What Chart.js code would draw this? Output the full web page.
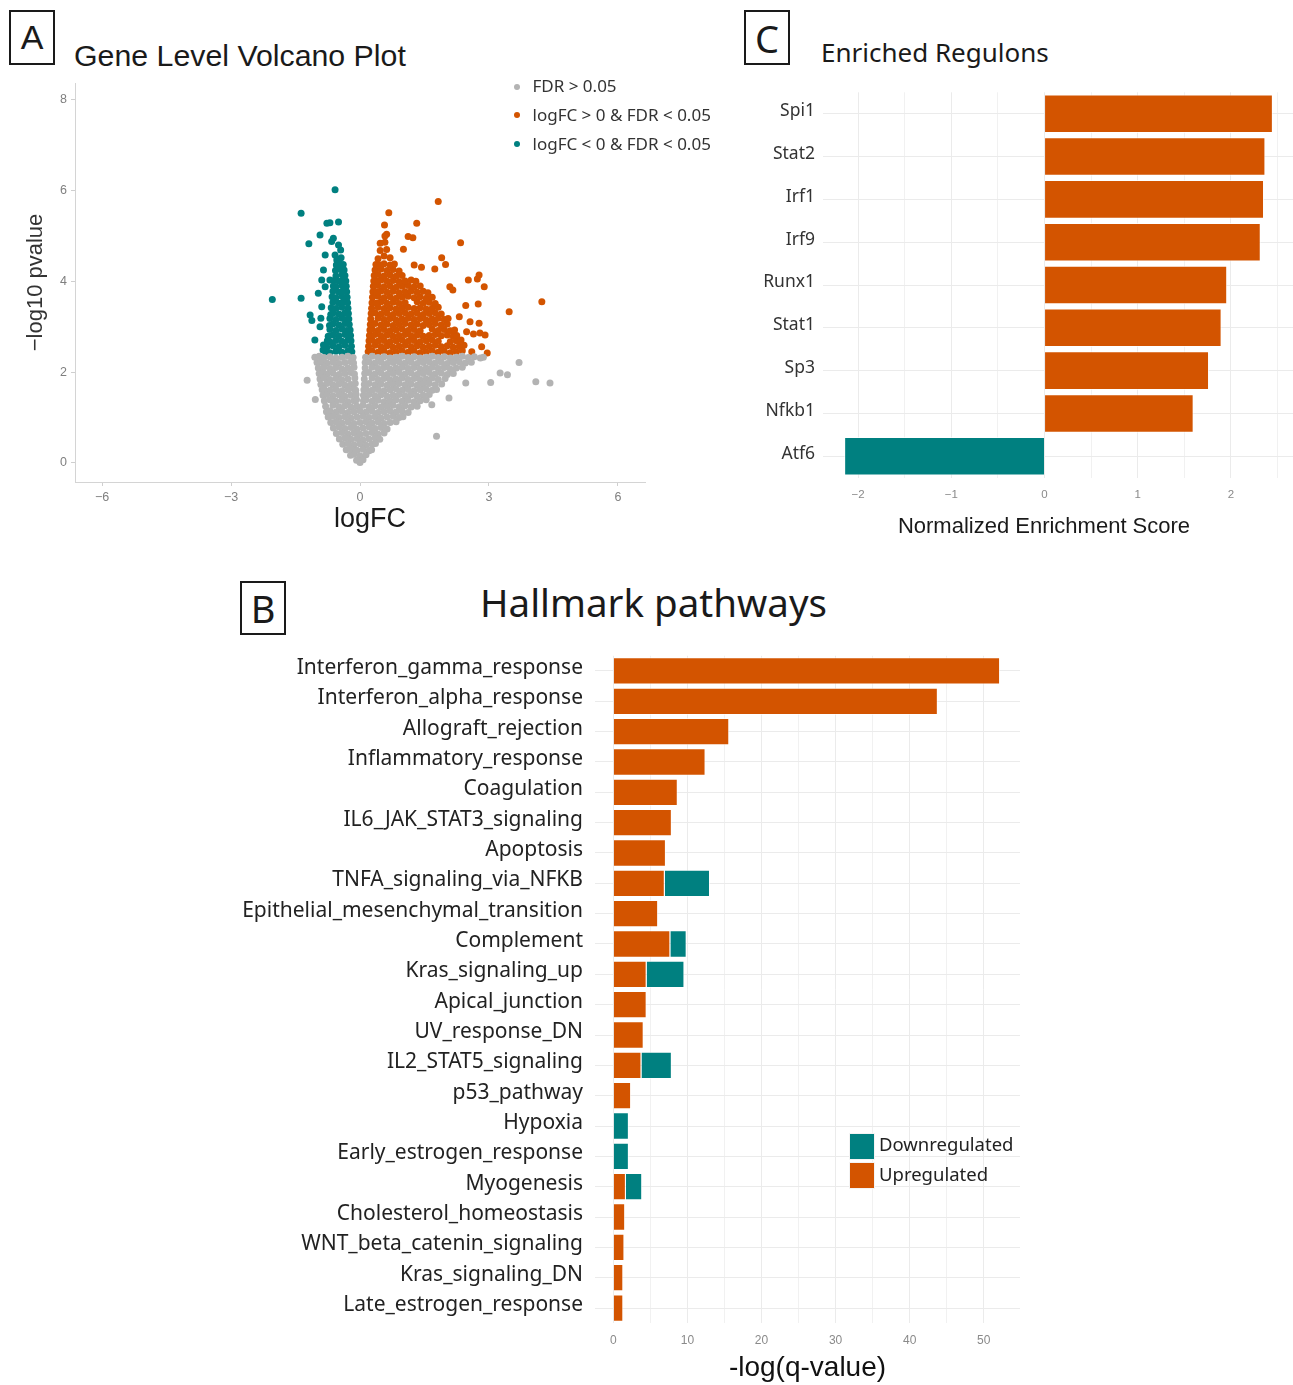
<!DOCTYPE html>
<html>
<head>
<meta charset="utf-8">
<title>Volcano plot, enriched regulons and hallmark pathways</title>
<script src="https://cdn.jsdelivr.net/npm/chart.js@4/dist/chart.umd.min.js"></script>
<style>
  html, body { margin: 0; padding: 0; background: #fff; }
  body { position: relative; width: 1293px; height: 1385px; overflow: hidden; }
  canvas { position: absolute; }
  .tag { position: absolute; box-sizing: border-box; border: 2px solid #1a1a1a; display: flex;
         align-items: center; justify-content: center; color: #1a1a1a; line-height: 1; }
  .txt { position: absolute; white-space: nowrap; }
  .dot { position: absolute; width: 6px; height: 6px; border-radius: 50%; }
  .sw { position: absolute; width: 26px; height: 27px; box-sizing: border-box; border: 1px solid #f4f4f4; }
</style>
</head>
<body>

<!-- Panel A -->
<div class="tag" style="left:9px;top:10px;width:46px;height:55px;font:34px 'Liberation Sans',Arial,sans-serif;">A</div>
<div class="txt" style="left:74px;top:41.4px;font:30.3px/30px 'Liberation Sans',Arial,sans-serif;color:#1a1a1a;">Gene Level Volcano Plot</div>
<canvas id="volcano" width="660" height="475" style="left:0;top:70px;"></canvas>
<div class="txt" style="left:270px;width:200px;text-align:center;top:504.8px;font:27px/27px 'Liberation Sans',Arial,sans-serif;color:#1a1a1a;">logFC</div>
<div class="dot" style="left:514px;top:83.5px;background:#b3b3b3;"></div>
<div class="dot" style="left:514px;top:112px;background:#d35400;"></div>
<div class="dot" style="left:514px;top:141px;background:#008080;"></div>
<div class="txt" style="left:532.5px;top:76px;font:17px/20px 'Noto Sans',sans-serif;color:#333;">FDR &gt; 0.05</div>
<div class="txt" style="left:532.5px;top:104.5px;font:17px/20px 'Noto Sans',sans-serif;color:#333;">logFC &gt; 0 &amp; FDR &lt; 0.05</div>
<div class="txt" style="left:532.5px;top:133.5px;font:17px/20px 'Noto Sans',sans-serif;color:#333;">logFC &lt; 0 &amp; FDR &lt; 0.05</div>

<!-- Panel C -->
<div class="tag" style="left:744px;top:10px;width:46px;height:55px;font:38px 'Noto Sans',sans-serif;">C</div>
<div class="txt" style="left:821px;top:38.6px;font:26px/26px 'Noto Sans',sans-serif;color:#1a1a1a;">Enriched Regulons</div>
<canvas id="regulons" width="548" height="465" style="left:745px;top:80px;"></canvas>
<div class="txt" style="left:894px;width:300px;text-align:center;top:514.7px;font:22px/22px 'Liberation Sans',Arial,sans-serif;color:#1a1a1a;">Normalized Enrichment Score</div>

<!-- Panel B -->
<div class="tag" style="left:240px;top:581px;width:46px;height:54px;font:38px 'Noto Sans',sans-serif;">B</div>
<div class="txt" style="left:480px;top:583.3px;font:38.5px/38px 'Noto Sans',sans-serif;color:#1a1a1a;">Hallmark pathways</div>
<canvas id="hallmark" width="800" height="745" style="left:230px;top:640px;"></canvas>
<div class="sw" style="left:848.5px;top:1133px;background:#008080;"></div>
<div class="sw" style="left:848.5px;top:1161.5px;background:#d35400;"></div>
<div class="txt" style="left:879px;top:1131px;font:18.5px/26px 'Noto Sans',sans-serif;color:#222;">Downregulated</div>
<div class="txt" style="left:879px;top:1160.5px;font:18.5px/26px 'Noto Sans',sans-serif;color:#222;">Upregulated</div>

<script>
// ---------- Panel A: gene level volcano plot (logFC, -log10 pvalue) ----------
const volcanoXTicks = [-6, -3, 0, 3, 6];
const volcanoYTicks = [0, 2, 4, 6, 8];

// FDR > 0.05
const pointsNotSig = [
  [-1.05,2.33],[-0.95,2.35],[-0.84,2.32],[-0.70,2.34],[-0.56,2.31],[-0.42,2.33],[-0.28,2.35],[-0.16,2.32],
  [0.13,2.33],[0.28,2.35],[0.42,2.32],[0.56,2.34],[0.70,2.31],[0.84,2.33],[0.98,2.35],[1.12,2.32],[1.26,2.34],
  [1.40,2.31],[1.54,2.33],[1.68,2.35],[1.82,2.32],[1.96,2.34],[2.10,2.31],[2.24,2.33],[2.38,2.35],[2.52,2.32],
  [2.66,2.34],[2.80,2.31],[2.87,2.33],[3.70,2.21],
  [-1.00,2.21],[-0.91,2.23],[-0.77,2.20],[-0.63,2.22],[-0.49,2.19],[-0.35,2.21],[-0.21,2.23],[-0.15,2.20],
  [0.12,2.21],[0.21,2.23],[0.35,2.20],[0.49,2.22],[0.63,2.19],[0.77,2.21],[0.91,2.23],[1.05,2.20],[1.19,2.22],
  [1.33,2.19],[1.47,2.21],[1.61,2.23],[1.75,2.20],[1.89,2.22],[2.03,2.19],[2.17,2.21],[2.31,2.23],[2.45,2.20],[2.59,2.22],
  [-0.97,2.09],[-0.84,2.11],[-0.70,2.08],[-0.56,2.10],[-0.42,2.07],[-0.28,2.09],[-0.14,2.11],
  [0.12,2.09],[0.28,2.11],[0.42,2.08],[0.56,2.10],[0.70,2.07],[0.84,2.09],[0.98,2.11],[1.12,2.08],[1.26,2.10],
  [1.40,2.07],[1.54,2.09],[1.68,2.11],[1.82,2.08],[1.96,2.10],[2.10,2.07],[2.24,2.09],[2.38,2.11],[3.26,1.98],[3.43,1.94],
  [-0.95,1.97],[-0.86,1.99],[-0.77,1.96],[-0.63,1.98],[-0.49,1.95],[-0.35,1.97],[-0.21,1.99],[-0.13,1.96],
  [0.11,1.97],[0.21,1.99],[0.35,1.96],[0.49,1.98],[0.63,1.95],[0.77,1.97],[0.91,1.99],[1.05,1.96],[1.19,1.98],
  [1.33,1.95],[1.47,1.97],[1.61,1.99],[1.75,1.96],[1.89,1.98],[2.03,1.95],[2.17,1.97],
  [-1.23,1.82],[-0.93,1.85],[-0.84,1.87],[-0.70,1.84],[-0.56,1.86],[-0.42,1.83],[-0.28,1.85],[-0.12,1.87],
  [0.10,1.85],[0.28,1.87],[0.42,1.84],[0.56,1.86],[0.70,1.83],[0.84,1.85],[0.98,1.87],[1.12,1.84],[1.26,1.86],
  [1.40,1.83],[1.54,1.85],[1.68,1.87],[1.82,1.84],[1.98,1.86],
  [-0.91,1.73],[-0.77,1.75],[-0.63,1.72],[-0.49,1.74],[-0.35,1.71],[-0.21,1.73],[-0.11,1.75],
  [0.10,1.73],[0.21,1.75],[0.35,1.72],[0.49,1.74],[0.63,1.71],[0.77,1.73],[0.91,1.75],[1.05,1.72],[1.19,1.74],
  [1.33,1.71],[1.47,1.73],[1.61,1.75],[1.75,1.72],[1.90,1.74],[2.46,1.76],[3.04,1.77],[4.09,1.79],[4.42,1.76],
  [-0.88,1.61],[-0.84,1.63],[-0.70,1.60],[-0.56,1.62],[-0.42,1.59],[-0.28,1.61],[-0.14,1.63],[-0.10,1.60],
  [0.09,1.61],[0.14,1.63],[0.28,1.60],[0.42,1.62],[0.56,1.59],[0.70,1.61],[0.84,1.63],[0.98,1.60],[1.12,1.62],
  [1.26,1.59],[1.40,1.61],[1.54,1.63],[1.68,1.60],[1.78,1.62],
  [-1.04,1.40],[-0.86,1.49],[-0.77,1.51],[-0.63,1.48],[-0.49,1.50],[-0.35,1.47],[-0.21,1.49],[-0.09,1.51],
  [0.08,1.49],[0.21,1.51],[0.35,1.48],[0.49,1.50],[0.63,1.47],[0.77,1.49],[0.91,1.51],[1.05,1.48],[1.19,1.50],
  [1.33,1.47],[1.47,1.49],[1.61,1.51],[2.07,1.43],
  [-0.83,1.37],[-0.70,1.39],[-0.56,1.36],[-0.42,1.38],[-0.28,1.35],[-0.14,1.37],[-0.08,1.39],
  [0.08,1.37],[0.14,1.39],[0.28,1.36],[0.42,1.38],[0.56,1.35],[0.70,1.37],[0.84,1.39],[0.98,1.36],[1.12,1.38],
  [1.26,1.35],[1.40,1.37],[1.54,1.39],
  [-0.80,1.25],[-0.63,1.27],[-0.49,1.24],[-0.35,1.26],[-0.21,1.23],[-0.07,1.25],
  [0.07,1.27],[0.21,1.24],[0.35,1.26],[0.49,1.23],[0.63,1.25],[0.77,1.27],[0.91,1.24],[1.05,1.26],[1.19,1.23],
  [1.33,1.25],[1.67,1.28],
  [-0.78,1.13],[-0.70,1.15],[-0.56,1.12],[-0.42,1.14],[-0.28,1.11],[-0.14,1.13],[0.00,1.15],[0.14,1.12],
  [0.28,1.14],[0.42,1.11],[0.56,1.13],[0.70,1.15],[0.84,1.12],[0.98,1.14],[1.12,1.11],
  [-0.74,1.01],[-0.63,1.03],[-0.49,1.00],[-0.35,1.02],[-0.21,0.99],[-0.07,1.01],[0.07,1.03],[0.21,1.00],
  [0.35,1.02],[0.49,0.99],[0.63,1.01],[0.77,1.03],[0.91,1.00],[1.00,1.02],
  [-0.68,0.89],[-0.56,0.91],[-0.42,0.88],[-0.28,0.90],[-0.14,0.87],[0.00,0.89],[0.14,0.91],[0.28,0.88],
  [0.42,0.90],[0.56,0.87],[0.70,0.89],[0.84,0.91],
  [-0.62,0.77],[-0.49,0.79],[-0.35,0.76],[-0.21,0.78],[-0.07,0.75],[0.07,0.77],[0.21,0.79],[0.35,0.76],
  [0.49,0.78],[0.63,0.75],
  [-0.55,0.65],[-0.42,0.67],[-0.28,0.64],[-0.14,0.66],[0.00,0.63],[0.14,0.65],[0.28,0.67],[0.42,0.64],
  [0.56,0.66],[1.78,0.59],
  [-0.48,0.53],[-0.35,0.55],[-0.21,0.52],[-0.07,0.54],[0.07,0.51],[0.21,0.53],[0.35,0.55],[0.46,0.52],
  [-0.40,0.41],[-0.28,0.43],[-0.14,0.40],[0.00,0.42],[0.14,0.39],[0.28,0.41],[0.36,0.43],
  [-0.32,0.29],[-0.21,0.31],[-0.07,0.28],[0.07,0.30],[0.21,0.27],[0.27,0.29],
  [-0.22,0.17],[-0.14,0.19],[0.00,0.16],[0.14,0.18],
  [-0.08,0.06],[0.07,0.07],[0.00,0.01]
];

// logFC > 0 & FDR < 0.05
const pointsUp = [
  [0.19,2.45],[0.28,2.47],[0.42,2.44],[0.56,2.46],[0.70,2.43],[0.84,2.45],[0.98,2.47],[1.12,2.44],[1.26,2.46],
  [1.40,2.43],[1.54,2.45],[1.68,2.47],[1.82,2.44],[1.96,2.46],[2.10,2.43],[2.24,2.45],[2.38,2.47],[2.60,2.45],[2.96,2.42],
  [0.20,2.57],[0.35,2.59],[0.49,2.56],[0.63,2.58],[0.77,2.55],[0.91,2.57],[1.05,2.59],[1.19,2.56],[1.33,2.58],
  [1.47,2.55],[1.61,2.57],[1.75,2.59],[1.89,2.56],[2.03,2.58],[2.17,2.55],[2.31,2.57],[2.42,2.59],[2.83,2.56],
  [0.21,2.69],[0.28,2.71],[0.42,2.68],[0.56,2.70],[0.70,2.67],[0.84,2.69],[0.98,2.71],[1.12,2.68],[1.26,2.70],
  [1.40,2.67],[1.54,2.69],[1.68,2.71],[1.82,2.68],[2.10,2.67],[2.24,2.69],[2.35,2.71],
  [0.22,2.81],[0.35,2.83],[0.49,2.80],[0.63,2.82],[0.77,2.79],[0.91,2.81],[1.05,2.83],[1.19,2.80],[1.33,2.82],
  [1.47,2.79],[1.61,2.81],[1.75,2.83],[1.89,2.80],[2.03,2.82],[2.17,2.79],[2.25,2.81],
  [2.48,2.89],[2.64,2.84],[2.79,2.86],[2.91,2.82],
  [0.23,2.93],[0.28,2.95],[0.42,2.92],[0.56,2.94],[0.70,2.91],[0.84,2.93],[0.98,2.95],[1.12,2.92],[1.26,2.94],
  [1.40,2.91],[1.68,2.95],[1.82,2.92],[1.96,2.94],[2.10,2.91],[2.20,2.93],
  [0.24,3.05],[0.35,3.07],[0.49,3.04],[0.63,3.06],[0.77,3.03],[0.91,3.05],[1.05,3.07],[1.19,3.04],[1.33,3.06],
  [1.47,3.03],[1.61,3.05],[1.75,3.07],[1.89,3.04],[2.03,3.06],[2.56,3.11],[2.77,3.08],
  [0.25,3.17],[0.42,3.19],[0.56,3.16],[0.70,3.18],[0.84,3.15],[0.98,3.17],[1.12,3.19],[1.26,3.16],[1.40,3.18],
  [1.54,3.15],[1.68,3.17],[1.82,3.19],[1.96,3.16],[2.05,3.18],[2.31,3.22],
  [0.26,3.29],[0.35,3.31],[0.49,3.28],[0.63,3.30],[0.77,3.27],[0.91,3.29],[1.05,3.31],[1.19,3.28],[1.33,3.30],
  [1.47,3.27],[1.61,3.29],[1.75,3.31],[1.89,3.28],[3.47,3.33],
  [0.27,3.41],[0.42,3.43],[0.56,3.40],[0.70,3.42],[0.84,3.39],[0.98,3.41],[1.12,3.43],[1.26,3.40],[1.40,3.42],
  [1.54,3.39],[1.68,3.41],[1.82,3.43],[2.46,3.47],
  [0.28,3.53],[0.49,3.55],[0.63,3.52],[0.77,3.54],[0.91,3.51],[1.05,3.53],[1.33,3.55],[1.47,3.52],[1.61,3.54],
  [1.75,3.51],[0.38,3.52],[2.75,3.50],[4.23,3.55],
  [0.29,3.65],[0.42,3.67],[0.56,3.64],[0.70,3.66],[0.84,3.63],[0.98,3.65],[1.12,3.67],[1.26,3.64],[1.40,3.66],
  [1.54,3.63],[1.68,3.65],
  [0.30,3.77],[0.49,3.79],[0.63,3.76],[0.77,3.78],[0.91,3.75],[1.05,3.77],[1.19,3.79],[1.33,3.76],[1.47,3.78],
  [1.58,3.75],[0.39,3.76],
  [0.31,3.89],[0.42,3.91],[0.56,3.88],[0.70,3.90],[0.84,3.87],[0.98,3.89],[1.12,3.91],[1.26,3.88],[1.40,3.90],
  [2.09,3.88],[2.16,3.81],[2.89,3.88],
  [0.32,4.01],[0.49,4.03],[0.63,4.00],[0.77,4.02],[0.91,3.99],[1.05,4.01],[1.19,4.03],[1.30,4.00],[0.40,4.00],
  [2.52,4.03],[2.73,4.05],[2.77,4.14],
  [0.33,4.13],[0.42,4.15],[0.56,4.12],[0.70,4.14],[0.84,4.11],[0.98,4.13],[1.74,4.27],
  [0.35,4.25],[0.49,4.27],[0.63,4.24],[0.77,4.26],[0.91,4.23],[1.26,4.36],[1.43,4.31],[1.99,4.37],
  [0.37,4.37],[0.56,4.39],[0.70,4.36],[0.80,4.38],[0.46,4.36],[1.90,4.52],
  [0.42,4.50],[0.56,4.56],[0.70,4.52],[0.47,4.68],[0.62,4.70],[1.01,4.71],[0.47,4.84],[0.58,4.86],[1.23,4.96],
  [0.62,5.04],[0.58,5.00],[1.12,4.99],[0.57,5.24],[1.32,5.28],[0.67,5.51],[1.82,5.76],[2.34,4.85]
];

// logFC < 0 & FDR < 0.05
const pointsDown = [
  [-0.19,2.45],[-0.28,2.47],[-0.42,2.44],[-0.56,2.46],[-0.70,2.43],[-0.80,2.45],[-0.86,2.49],
  [-0.20,2.57],[-0.35,2.59],[-0.49,2.56],[-0.63,2.58],[-0.77,2.55],[-0.85,2.60],
  [-0.21,2.69],[-0.28,2.71],[-0.42,2.68],[-0.56,2.70],[-0.70,2.67],[-0.76,2.69],[-1.05,2.71],
  [-0.22,2.81],[-0.35,2.83],[-0.49,2.80],[-0.63,2.82],[-0.74,2.79],
  [-0.23,2.93],[-0.42,2.95],[-0.56,2.92],[-0.70,2.94],[-0.31,2.92],[-0.93,3.00],
  [-0.25,3.05],[-0.35,3.07],[-0.49,3.04],[-0.63,3.06],[-0.71,3.03],
  [-0.26,3.17],[-0.42,3.19],[-0.56,3.16],[-0.70,3.18],[-0.33,3.16],[-0.91,3.19],[-1.12,3.14],
  [-0.27,3.29],[-0.35,3.31],[-0.49,3.28],[-0.63,3.30],[-0.68,3.27],[-1.16,3.26],
  [-0.28,3.41],[-0.42,3.43],[-0.56,3.40],[-0.67,3.42],[-0.89,3.44],
  [-0.29,3.53],[-0.39,3.55],[-0.49,3.52],[-0.63,3.54],
  [-0.30,3.65],[-0.42,3.67],[-0.56,3.64],[-0.65,3.66],[-1.37,3.63],[-2.04,3.60],
  [-0.31,3.77],[-0.40,3.79],[-0.49,3.76],[-0.63,3.78],[-0.97,3.74],
  [-0.32,3.89],[-0.42,3.91],[-0.56,3.88],[-0.62,3.90],[-0.81,3.88],
  [-0.33,4.01],[-0.41,4.03],[-0.49,4.00],[-0.60,4.02],[-0.70,4.03],[-0.89,4.03],
  [-0.35,4.13],[-0.42,4.15],[-0.56,4.12],
  [-0.37,4.25],[-0.49,4.27],[-0.57,4.24],[-0.85,4.25],
  [-0.39,4.37],[-0.47,4.39],[-0.55,4.36],[-0.54,4.47],
  [-0.44,4.52],[-0.58,4.58],[-0.81,4.58],[-0.45,4.69],[-0.50,4.80],[-0.62,4.95],[-0.66,4.88],[-0.93,5.02],
  [-0.77,5.28],[-0.70,5.29],[-0.50,5.31],[-1.19,4.83],[-1.37,5.50],[-0.58,6.02]
];

// ---------- Panel C: enriched regulons (normalized enrichment score) ----------
const regulonNames = ['Spi1', 'Stat2', 'Irf1', 'Irf9', 'Runx1', 'Stat1', 'Sp3', 'Nfkb1', 'Atf6'];
const regulonNES   = [2.45, 2.37, 2.355, 2.32, 1.96, 1.90, 1.765, 1.60, -2.15];
const nesGridTicks = [-2, -1.5, -1, -0.5, 0, 0.5, 1, 1.5, 2, 2.5];

// ---------- Panel B: hallmark pathways (-log q-value) ----------
const pathways = [
  'Interferon_gamma_response', 'Interferon_alpha_response', 'Allograft_rejection', 'Inflammatory_response',
  'Coagulation', 'IL6_JAK_STAT3_signaling', 'Apoptosis', 'TNFA_signaling_via_NFKB',
  'Epithelial_mesenchymal_transition', 'Complement', 'Kras_signaling_up', 'Apical_junction',
  'UV_response_DN', 'IL2_STAT5_signaling', 'p53_pathway', 'Hypoxia', 'Early_estrogen_response',
  'Myogenesis', 'Cholesterol_homeostasis', 'WNT_beta_catenin_signaling', 'Kras_signaling_DN',
  'Late_estrogen_response'
];
const upScores   = [52.2, 43.8, 15.65, 12.45, 8.7, 7.9, 7.1, 6.95, 6.05, 7.7, 4.5, 4.5, 4.1, 3.8, 2.4, 0, 0, 1.7, 1.6, 1.5, 1.35, 1.35];
const downScores = [0, 0, 0, 0, 0, 0, 0, 6.1, 0, 2.2, 5.1, 0, 0, 4.1, 0, 2.1, 2.1, 2.2, 0, 0, 0, 0];
const qGridTicks = [0, 5, 10, 15, 20, 25, 30, 35, 40, 45, 50];

// ---------- shared helpers ----------
const GRAY = '#b3b3b3', ORANGE = '#d35400', TEAL = '#008080', GRID = '#ebebeb';
const withMinus = v => (v < 0 ? '\u2212' + Math.abs(v) : String(v));
const toXY = pts => pts.map(([x, y]) => ({ x, y }));
const fixedTicks = list => scale => { scale.ticks = list.map(v => ({ value: v })); };
// pin an axis box to an exact size so the plotting area lands where intended
const fixedSize = px => scale => {
  if (scale.isHorizontal()) scale.height = px; else scale.width = px;
  scale.paddingLeft = scale.paddingRight = scale.paddingTop = scale.paddingBottom = 0;
};
const base = {
  responsive: false, animation: false, devicePixelRatio: 1, events: [],
  plugins: { legend: { display: false }, tooltip: { enabled: false } }
};

// Panel A chart
new Chart(document.getElementById('volcano'), {
  type: 'scatter',
  data: {
    datasets: [
      { label: 'FDR > 0.05', data: toXY(pointsNotSig), backgroundColor: GRAY },
      { label: 'logFC > 0 & FDR < 0.05', data: toXY(pointsUp), backgroundColor: ORANGE },
      { label: 'logFC < 0 & FDR < 0.05', data: toXY(pointsDown), backgroundColor: TEAL }
    ].map(d => Object.assign(d, { pointRadius: 3.5, pointHoverRadius: 3.5, pointBorderWidth: 0, borderWidth: 0 }))
  },
  options: Object.assign({}, base, {
    layout: { padding: { top: 13, right: 15, left: 0, bottom: 0 } },
    scales: {
      x: {
        type: 'linear', min: -6.63, max: 6.63,
        afterBuildTicks: fixedTicks(volcanoXTicks), afterFit: fixedSize(63),
        grid: { display: true, drawOnChartArea: false, drawTicks: true, tickLength: 4, color: '#cfcfcf' },
        border: { display: true, color: '#d4d4d4' },
        ticks: { padding: 4, color: '#7f7f7f', autoSkip: false, maxRotation: 0,
                 font: { family: 'Liberation Sans', size: 12.5 }, callback: withMinus }
      },
      y: {
        type: 'linear', min: -0.42, max: 8.37,
        afterBuildTicks: fixedTicks(volcanoYTicks), afterFit: fixedSize(75),
        grid: { display: true, drawOnChartArea: false, drawTicks: true, tickLength: 4, color: '#cfcfcf' },
        border: { display: true, color: '#d4d4d4' },
        ticks: { padding: 4, color: '#7f7f7f', autoSkip: false,
                 font: { family: 'Liberation Sans', size: 12.5 }, callback: withMinus },
        title: { display: true, text: '\u2212log10 pvalue', color: '#333',
                 font: { family: 'Liberation Sans', size: 22 }, padding: { top: 23, bottom: 0 } }
      }
    }
  })
});

// Panel C chart
new Chart(document.getElementById('regulons'), {
  type: 'bar',
  data: {
    labels: regulonNames,
    datasets: [{
      data: regulonNES,
      backgroundColor: regulonNES.map(v => (v < 0 ? TEAL : ORANGE)),
      borderColor: 'rgba(255,255,255,0.7)', borderWidth: 1,
      barPercentage: 0.9, categoryPercentage: 1
    }]
  },
  options: Object.assign({}, base, {
    indexAxis: 'y',
    layout: { padding: { top: 12.3, right: 0, left: 0, bottom: 0 } },
    scales: {
      x: {
        type: 'linear', min: -2.377, max: 2.666,
        afterBuildTicks: fixedTicks(nesGridTicks), afterFit: fixedSize(67.3),
        grid: { color: GRID, drawTicks: false,
                lineWidth: c => (c.tick && Number.isInteger(c.tick.value) ? 1 : 0.7) },
        border: { display: false },
        ticks: { padding: 10, color: '#8a8a8a', autoSkip: false, maxRotation: 0,
                 font: { family: 'Liberation Sans', size: 11.5 },
                 callback: v => (Number.isInteger(v) ? withMinus(v) : '') }
      },
      y: {
        type: 'category', afterFit: fixedSize(78),
        grid: { color: GRID, drawTicks: false, offset: false },
        border: { display: false },
        ticks: { padding: 8, labelOffset: -2.5, color: '#333', autoSkip: false,
                 font: { family: 'Noto Sans', size: 17.5 } }
      }
    }
  })
});

// Panel B chart
new Chart(document.getElementById('hallmark'), {
  type: 'bar',
  data: {
    labels: pathways,
    datasets: [
      { label: 'Upregulated', data: upScores, backgroundColor: ORANGE },
      { label: 'Downregulated', data: downScores, backgroundColor: TEAL }
    ].map(d => Object.assign(d, { borderColor: 'rgba(255,255,255,0.6)', borderWidth: 1,
                                  barPercentage: 0.9, categoryPercentage: 1 }))
  },
  options: Object.assign({}, base, {
    indexAxis: 'y',
    layout: { padding: { top: 15.8, right: 10, left: 0, bottom: 0 } },
    scales: {
      x: {
        type: 'linear', stacked: true, min: -2.47, max: 54.89,
        afterBuildTicks: fixedTicks(qGridTicks), afterFit: fixedSize(61.8),
        grid: { color: GRID, drawTicks: false,
                lineWidth: c => (c.tick && c.tick.value % 10 === 0 ? 1 : 0.7) },
        border: { display: false },
        ticks: { padding: 10, color: '#8a8a8a', autoSkip: false, maxRotation: 0,
                 font: { family: 'Liberation Sans', size: 12 },
                 callback: v => (v % 10 === 0 ? String(v) : '') },
        title: { display: true, text: '-log(q-value)', color: '#111',
                 font: { family: 'Liberation Sans', size: 28 }, padding: { top: 0, bottom: 0 } }
      },
      y: {
        type: 'category', stacked: true, afterFit: fixedSize(365),
        grid: { color: GRID, drawTicks: false, offset: false },
        border: { display: false },
        ticks: { padding: 12, labelOffset: -3, color: '#222', autoSkip: false,
                 font: { family: 'Noto Sans', size: 21 } }
      }
    }
  })
});
</script>
</body>
</html>
